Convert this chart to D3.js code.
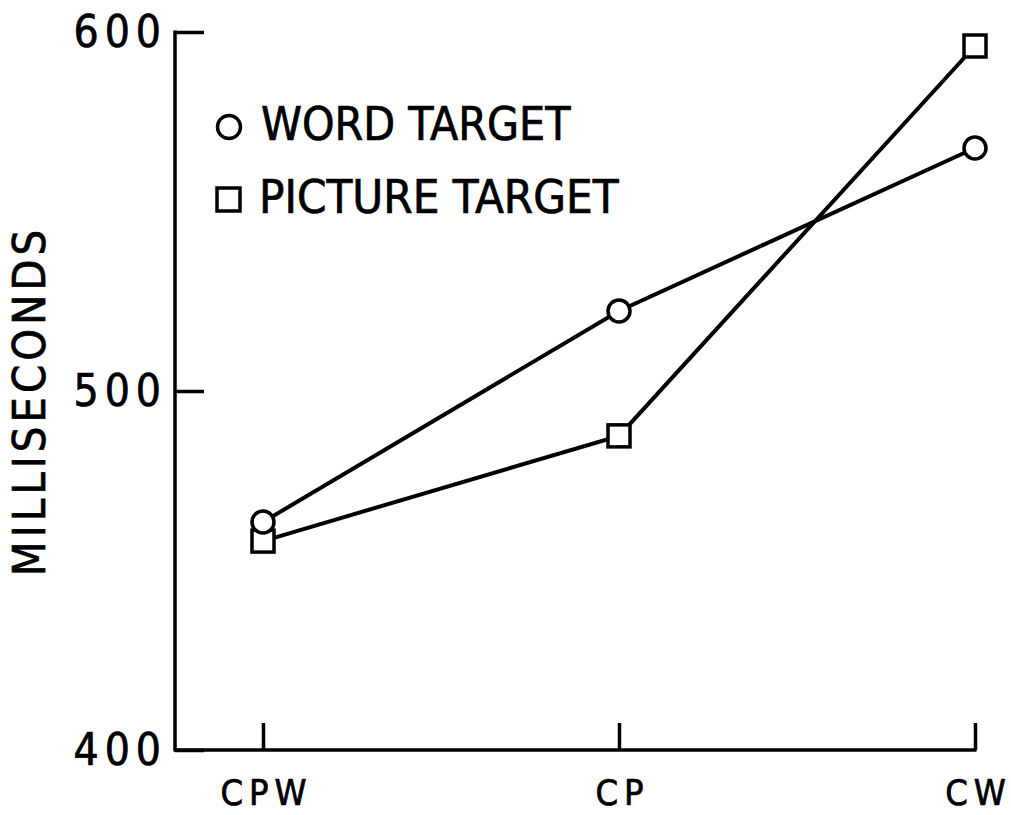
<!DOCTYPE html>
<html>
<head>
<meta charset="utf-8">
<script src="https://cdn.jsdelivr.net/npm/d3@7"></script>
<style>
  body { margin: 0; background: #fff; }
  text { font-family: "DejaVu Sans Condensed", "DejaVu Sans", sans-serif; font-stretch: condensed; fill: #000; stroke: #000; stroke-width: 0.7px; }
</style>
</head>
<body>
<div id="chart"></div>
<script>
// conditions on the x axis
const conditions = ["CPW", "CP", "CW"];
// reaction times (ms)
const wordTarget = [463.5, 522.3, 567.7];
const pictureTarget = [458.2, 487.5, 596.1];
const yTicks = [400, 500, 600];

const width = 1011, height = 815;

const svg = d3.select("#chart").append("svg")
  .attr("width", width)
  .attr("height", height);

const x = d3.scalePoint().domain(conditions).range([263, 975]);
const y = d3.scaleLinear().domain([400, 600]).range([750, 32]);

// y axis
let yAxis = svg.append("g")
  .attr("transform", "translate(175,0)")
  .call(d3.axisLeft(y).tickValues(yTicks).tickSize(-29).tickPadding(12).tickFormat(d3.format("d")));
yAxis.select(".domain").remove();
yAxis.selectAll("line").attr("stroke", "#000").attr("stroke-width", 3.5);
yAxis.selectAll("text")
  .style("font-size", "44px")
  .style("letter-spacing", "6px")
  .attr("x", -8);
svg.append("line")
  .attr("x1", 175).attr("x2", 175)
  .attr("y1", y(600) - 1.5).attr("y2", y(400))
  .attr("stroke", "#000").attr("stroke-width", 3.5);

// x axis
let xAxis = svg.append("g")
  .attr("transform", "translate(0," + y(400) + ")")
  .call(d3.axisBottom(x).tickSize(-27).tickPadding(0));
xAxis.select(".domain").remove();
xAxis.selectAll("line").attr("stroke", "#000").attr("stroke-width", 3.5);
xAxis.selectAll("text")
  .style("font-size", "36px")
  .style("letter-spacing", "6px")
  .attr("x", 3)
  .attr("y", 55)
  .attr("dy", 0);
svg.append("line")
  .attr("x1", 175 - 1.5).attr("x2", x("CW") + 1.5)
  .attr("y1", y(400)).attr("y2", y(400))
  .attr("stroke", "#000").attr("stroke-width", 3.5);

// y title
svg.append("text")
  .attr("transform", "translate(45,401) rotate(-90)")
  .attr("text-anchor", "middle")
  .style("font-size", "45px")
  .style("letter-spacing", "4px")
  .text("MILLISECONDS");

const line = d3.line()
  .x((d, i) => x(conditions[i]))
  .y(d => y(d));

[wordTarget, pictureTarget].forEach(s => {
  svg.append("path")
    .datum(s)
    .attr("d", line)
    .attr("fill", "none")
    .attr("stroke", "#000")
    .attr("stroke-width", 4);
});

svg.selectAll(".sq")
  .data(pictureTarget)
  .enter().append("rect")
  .attr("x", (d, i) => x(conditions[i]) - 11)
  .attr("y", d => y(d) - 11)
  .attr("width", 22).attr("height", 22)
  .attr("fill", "#fff").attr("stroke", "#000").attr("stroke-width", 3.5);

svg.selectAll(".ci")
  .data(wordTarget)
  .enter().append("circle")
  .attr("cx", (d, i) => x(conditions[i]))
  .attr("cy", d => y(d))
  .attr("r", 11)
  .attr("fill", "#fff").attr("stroke", "#000").attr("stroke-width", 3.5);

// legend
svg.append("circle")
  .attr("cx", 229).attr("cy", 127).attr("r", 11.5)
  .attr("fill", "#fff").attr("stroke", "#000").attr("stroke-width", 3.5);
svg.append("text")
  .attr("x", 261).attr("y", 140)
  .style("font-size", "46px")
  .text("WORD TARGET");
svg.append("rect")
  .attr("x", 217).attr("y", 188).attr("width", 23).attr("height", 23)
  .attr("fill", "#fff").attr("stroke", "#000").attr("stroke-width", 3.5);
svg.append("text")
  .attr("x", 259).attr("y", 213)
  .style("font-size", "47px")
  .text("PICTURE TARGET");
</script>
</body>
</html>
